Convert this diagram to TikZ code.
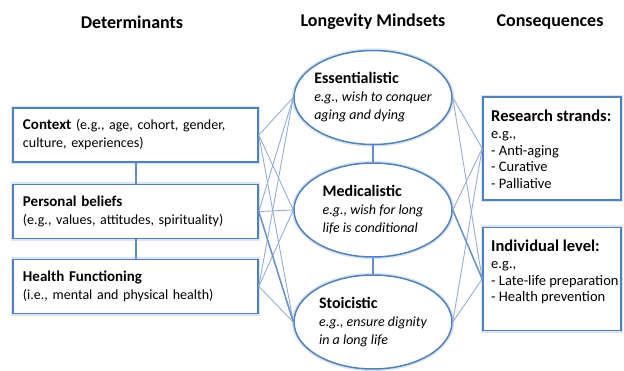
\documentclass[tikz,border=0pt]{standalone}
\usepackage{fontspec}
\setmainfont{Carlito}
\usetikzlibrary{shapes.geometric}
\definecolor{boxblue}{HTML}{4F81BD}
\definecolor{linkblue}{HTML}{93AED5}
\definecolor{glowblue}{HTML}{DCE6F2}

\begin{document}
\begin{tikzpicture}[x=1pt,y=-1pt,
    head/.style={font=\fontsize{18}{21}\selectfont\bfseries},
    detbox/.style={draw=boxblue,line width=1.6pt,fill=white,minimum width=245pt,minimum height=54pt,
      text width=225pt,align=left,inner xsep=10pt,font=\fontsize{14}{18}\selectfont,
      preaction={draw=glowblue,line width=4.5pt}},
    mindset/.style={ellipse,draw=boxblue,line width=1.5pt,fill=white,minimum width=158pt,minimum height=94pt,
      inner sep=0pt,preaction={draw=glowblue,line width=4.5pt}},
    mindtext/.style={align=left,inner sep=0pt,font=\fontsize{14}{18}\selectfont},
    consbox/.style={draw=boxblue,line width=1.6pt,fill=white,minimum width=138pt,minimum height=103pt,
      preaction={draw=glowblue,line width=4.5pt}},
    constext/.style={anchor=north west,align=left,inner sep=0pt,font=\fontsize{14.5}{16.7}\selectfont},
    link/.style={draw=linkblue,line width=0.9pt},
    strong/.style={draw=boxblue!85,line width=1.5pt},
    vlink/.style={draw=boxblue!90,line width=2pt}]
  \useasboundingbox (0,0) rectangle (624,371);

  % column headings
  \node[head](hdet) at (132,22){Determinants};
  \node[head](hmind) at (373,22){Longevity Mindsets};
  \node[head](hcons) at (550,22){Consequences};

  % determinants
  \node[detbox](context) at (135.5,135){{\fontsize{15}{18}\selectfont\bfseries Context} (e.g., age, cohort, gender,\\culture, experiences)};
  \node[detbox](personal) at (135.5,211.5){{\fontsize{15}{18}\selectfont\bfseries Personal beliefs}\\(e.g., values, attitudes, spirituality)};
  \node[detbox](health) at (135.5,286.5){{\fontsize{15}{18}\selectfont\bfseries Health Functioning}\\(i.e., mental and physical health)};

  % mindsets
  \node[mindset](essent) at (373,97.5){};
  \node[mindtext](essent-t) at (essent){{\fontsize{16}{18}\selectfont\bfseries Essentialistic}\\{\itshape e.g., wish to conquer}\\{\itshape aging and dying}};
  \node[mindset](medic) at (373,210){};
  \node[mindtext](medic-t) at (medic){{\fontsize{16}{18}\selectfont\bfseries Medicalistic}\\{\itshape e.g., wish for long}\\{\itshape life is conditional}};
  \node[mindset](stoic) at (373,322){};
  \node[mindtext](stoic-t) at (stoic){{\fontsize{16}{18}\selectfont\bfseries Stoicistic}\\{\itshape e.g., ensure dignity}\\{\itshape in a long life}};

  % consequences
  \node[consbox](research) at (552,148.5){};
  \node[constext](research-t) at (491,110){{\fontsize{16.5}{16.7}\selectfont\bfseries Research strands:}\\e.g.,\\- Anti-aging\\- Curative\\- Palliative};
  \node[consbox](indiv) at (552,279){};
  \node[constext](indiv-t) at (491,240){{\fontsize{16.5}{16.7}\selectfont\bfseries Individual level:}\\e.g.,\\- Late-life preparation\\- Health prevention};

  % links
  \foreach \d in {context,personal,health}
    \foreach \m in {essent,medic,stoic}
      \draw[link] (\d.east) -- (\m.west);
  \draw[strong] (personal.east) -- (stoic.west);
  \foreach \m in {essent,medic,stoic}
    \foreach \c in {research,indiv}
      \draw[link] (\m.east) -- (\c.west);
  \draw[strong] (medic.east) -- (indiv.west);

  \draw[vlink] (context) -- (personal);
  \draw[vlink] (personal) -- (health);
  \draw[vlink] (essent) -- (medic);
  \draw[vlink] (medic) -- (stoic);
\end{tikzpicture}
\end{document}
